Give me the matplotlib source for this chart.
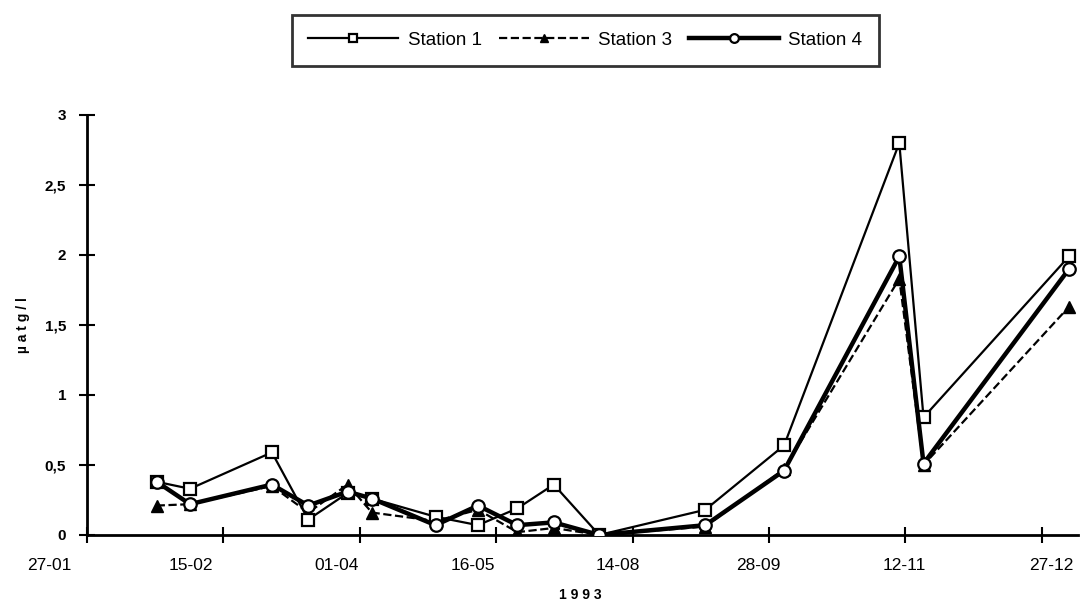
import matplotlib
matplotlib.use("Agg")
import matplotlib.pyplot as plt
from matplotlib.transforms import blended_transform_factory

plt.rcParams['font.family'] = ['Liberation Sans', 'DejaVu Sans']

# sampling days, counted from 27-01 (axis origin)
days = [23, 34, 61, 73, 86, 94, 115, 129, 142, 154, 169, 204, 230, 268, 276, 324]

station1 = [0.38, 0.33, 0.59, 0.11, 0.30, 0.26, 0.13, 0.07, 0.19, 0.36, 0.00,
            0.18, 0.64, 2.80, 0.84, 1.99]
station3 = [0.21, 0.22, 0.35, 0.16, 0.36, 0.16, 0.10, 0.18, 0.02, 0.05, 0.00,
            0.06, 0.47, 1.83, 0.50, 1.63]
station4 = [0.38, 0.22, 0.36, 0.21, 0.31, 0.26, 0.07, 0.21, 0.07, 0.09, 0.00,
            0.07, 0.46, 1.99, 0.51, 1.90]

tick_days = [0, 45, 90, 135, 180, 225, 270, 315]
# label positions drift from the ticks in the original scan
label_days = [-12.5, 34.3, 82.4, 127.3, 175.2, 221.6, 269.5, 318.3]
date_labels = ['27-01', '15-02', '01-04', '16-05', '14-08', '28-09', '12-11', '27-12']
y_ticks = [0, 0.5, 1, 1.5, 2, 2.5, 3]
y_labels = ['0', '0,5', '1', '1,5', '2', '2,5', '3']

fig = plt.figure(figsize=(10.82, 6.10), dpi=100)
ax = fig.add_axes([0.0804, 0.123, 0.916, 0.6885])

ax.plot(days, station1, '-', color='black', lw=1.6, marker='s', ms=9,
        mfc='white', mec='black', mew=1.6, label='Station 1', zorder=3)
ax.plot(days, station3, '--', color='black', lw=1.6, marker='^', ms=8,
        mfc='black', mec='black', label='Station 3', zorder=2)
ax.plot(days, station4, '-', color='black', lw=3.2, marker='o', ms=9,
        mfc='white', mec='black', mew=1.6, label='Station 4', zorder=4)

ax.set_xlim(0, 327)
ax.set_ylim(0, 3)
ax.spines['top'].set_visible(False)
ax.spines['right'].set_visible(False)
ax.spines['left'].set_linewidth(2)
ax.spines['bottom'].set_linewidth(2)

ax.set_xticks(tick_days)
ax.set_xticklabels([])
ax.tick_params(axis='x', direction='inout', length=12, width=1.5)
ax.set_yticks(y_ticks)
ax.set_yticklabels(y_labels, fontsize=11, fontweight='bold')
ax.tick_params(axis='y', direction='inout', length=12, width=1.5, pad=9)

trans = blended_transform_factory(ax.transData, ax.transAxes)
for d, lab in zip(label_days, date_labels):
    ax.text(d, -0.072, lab, transform=trans, ha='center', va='center',
            fontsize=12.5, clip_on=False)

fig.text(0.536, 0.025, '1 9 9 3', ha='center', va='center', fontsize=10,
         fontweight='bold')
fig.text(0.021, 0.467, 'µ a t g / l', rotation=90, ha='center', va='center',
         fontsize=10, fontweight='bold')

leg = fig.legend(loc='center', bbox_to_anchor=(0.541, 0.934), ncol=3,
                 fontsize=13.5, handlelength=4.8, frameon=True, fancybox=False,
                 edgecolor='black', borderpad=0.9, columnspacing=0.9,
                 handletextpad=0.5, markerscale=0.7)
leg.get_frame().set_linewidth(2)

fig.savefig('out.png', dpi=100)
